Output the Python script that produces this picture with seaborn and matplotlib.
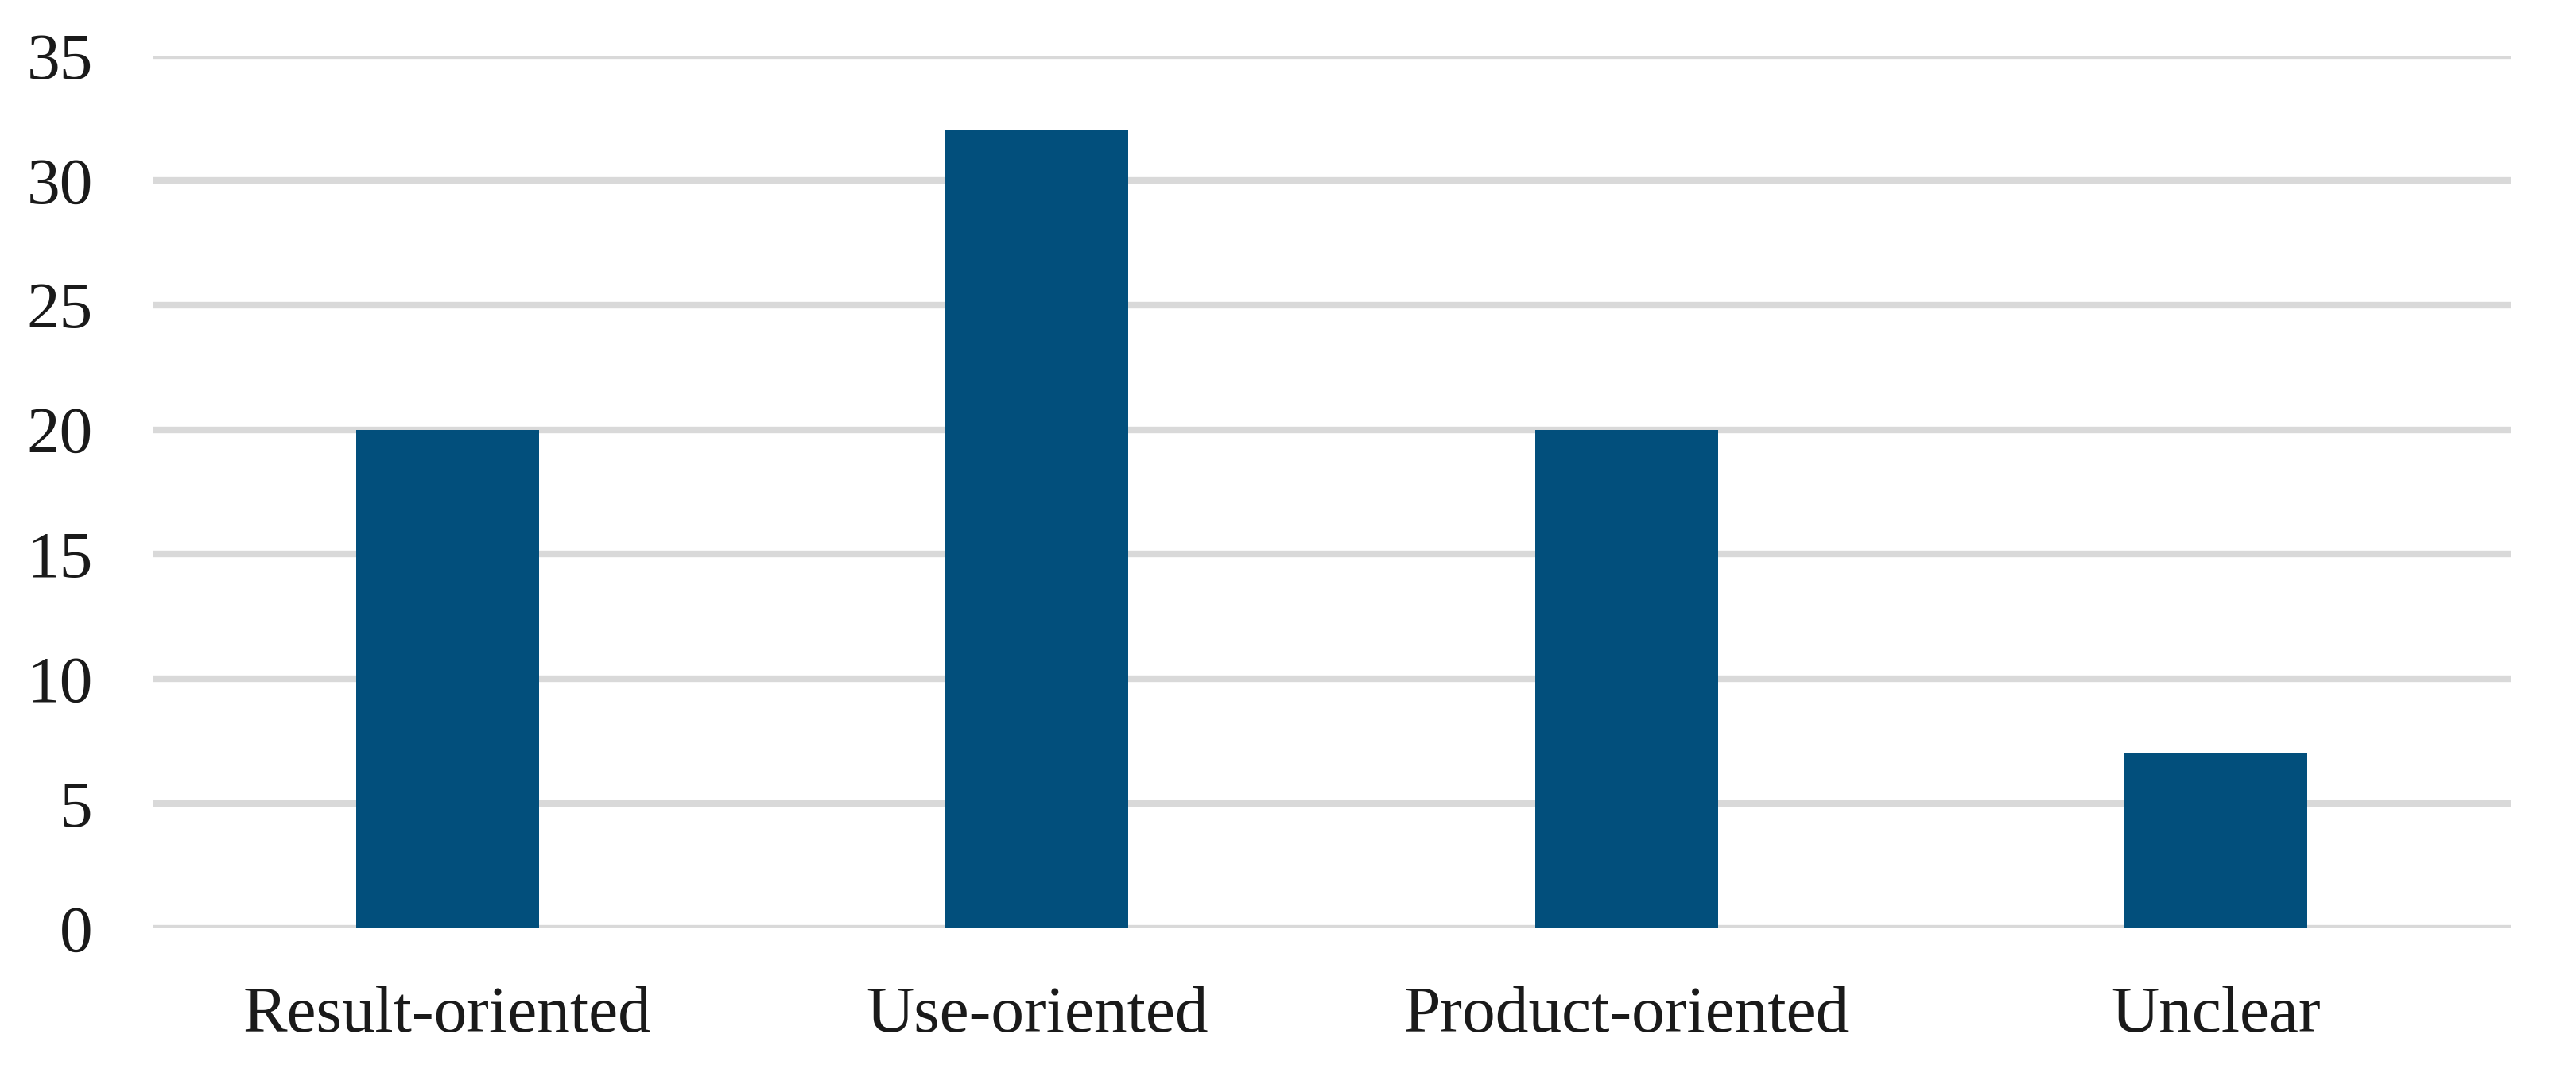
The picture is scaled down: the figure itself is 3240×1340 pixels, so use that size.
import matplotlib
matplotlib.use("Agg")
import matplotlib.pyplot as plt
import seaborn as sns
import pandas as pd

categories = ["Result-oriented", "Use-oriented", "Product-oriented", "Unclear"]
values = [20, 32, 20, 7]
yticks = [0, 5, 10, 15, 20, 25, 30, 35]

sns.set_theme(style="white")
plt.rcParams["font.family"] = ["Liberation Serif", "DejaVu Serif"]

df = pd.DataFrame({"cat": categories, "val": values})

fig = plt.figure(figsize=(16.205, 6.70), dpi=200)
ax = fig.add_axes([0.0592, 0.1284, 0.9152, 0.8194])
sns.barplot(data=df, x="cat", y="val", color="#024F7C", width=0.31, ax=ax,
            saturation=1, zorder=3, linewidth=0, edgecolor="none")
ax.set_ylim(0, 35)
ax.set_xlim(-0.5, 3.5)
ax.set_yticks(yticks)
ax.yaxis.grid(True, color="#D9D9D9", linewidth=3.0, zorder=0)
ax.set_axisbelow(True)
for s in ax.spines.values():
    s.set_visible(False)
ax.set_xlabel("")
ax.set_ylabel("")
ax.tick_params(axis="y", length=0, pad=27, labelsize=30, labelcolor="#1a1a1a")
ax.tick_params(axis="x", length=0, pad=26, labelsize=30, labelcolor="#1a1a1a")
fig.savefig("out.png", dpi=200, facecolor="white")
